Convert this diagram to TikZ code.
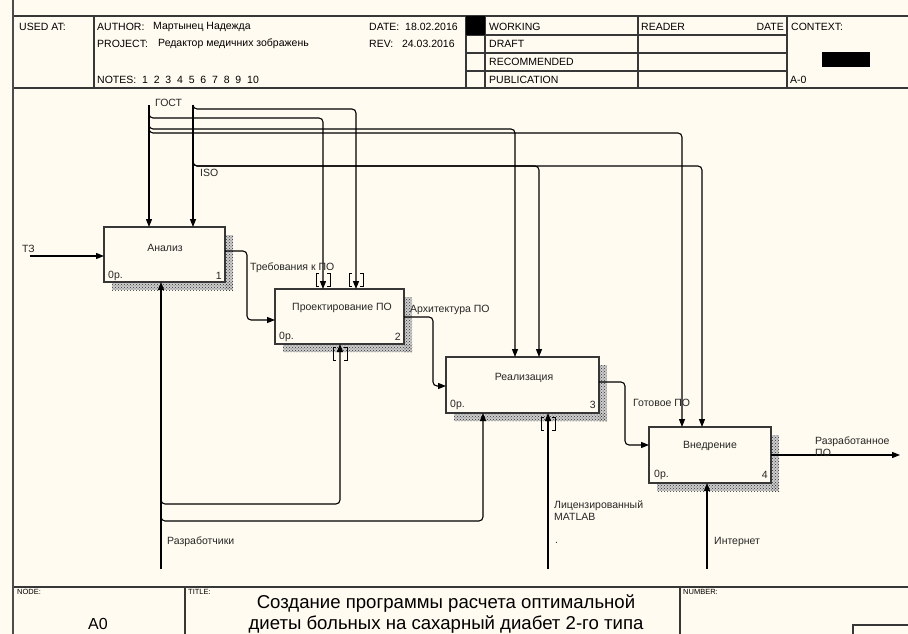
\documentclass[tikz,border=0pt]{standalone}
\usepackage{fontspec}
\setmainfont{Liberation Sans}
\usepackage{graphicx}
\usetikzlibrary{arrows.meta,patterns,calc}
\definecolor{bg}{RGB}{255,251,240}
\definecolor{framec}{RGB}{55,55,55}
\newcommand\idtunnel[1]{%
  \draw[tun] ($(#1)+(-4,0)$) -- ++(-3,0) -- ++(0,13) -- ++(3,0);
  \draw[tun] ($(#1)+(4,0)$) -- ++(3,0) -- ++(0,13) -- ++(-3,0);}
\newcommand\idshadow[1]{%
  \fill[gray!40] ($(#1.north east)+(0,8)$) rectangle ($(#1.south east)+(8,8)$);
  \fill[gray!40] ($(#1.south west)+(8,0)$) rectangle ($(#1.south east)+(8,8)$);
  \fill[pattern=crosshatch dots, pattern color=gray!40!black] ($(#1.north east)+(0,8)$) rectangle ($(#1.south east)+(8,8)$);
  \fill[pattern=crosshatch dots, pattern color=gray!40!black] ($(#1.south west)+(8,0)$) rectangle ($(#1.south east)+(8,8)$);}
\begin{document}
\begin{tikzpicture}[x=1pt,y=-1pt,
  box/.style={draw=framec, line width=1.3pt, fill=bg, inner sep=0pt, outer sep=0pt},
  lbl/.style={font=\fontsize{10.5}{12}\selectfont, inner sep=0pt, anchor=west, text=black!85},
  hdr/.style={font=\fontsize{10.5}{12}\selectfont, inner sep=0pt, anchor=west},
  tiny/.style={font=\fontsize{7.5}{8}\selectfont, inner sep=0pt, anchor=north west},
  arr/.style={line width=1.1pt, rounded corners=4pt, -{Triangle[length=8pt,width=6pt]}},
  ln/.style={line width=1.1pt, rounded corners=4pt},
  tun/.style={line width=0.9pt},
  frm/.style={line width=1.3pt, draw=framec}]
\useasboundingbox[fill=bg] (0,0) rectangle (908,634);
% left border
\draw[line width=2.6pt, draw=gray!60!black] (13,0) -- (13,634);
% ---------- header ----------
\draw[frm] (14,16) -- (908,16);
\draw[frm] (14,88) -- (908,88);
\foreach \xx in {94,466,485,638,787} \draw[frm] (\xx,16) -- (\xx,88);
\foreach \yy in {35,53,71} \draw[frm] (466,\yy) -- (787,\yy);
\fill[black] (466,16) rectangle (485,35);
\fill[black] (822,52) rectangle (870,67);
\node[hdr] (usedat) at (19,27) {USED AT:};
\node[hdr] (author) at (97,27) {AUTHOR:};
\node[hdr] (authorv) at (153,27) {Мартынец Надежда};
\node[hdr] (project) at (97,44) {PROJECT:};
\node[hdr] (projectv) at (158,44) {Редактор медичних зображень};
\node[hdr] (notes) at (97,80) {NOTES:\ \ 1\ \ 2\ \ 3\ \ 4\ \ 5\ \ 6\ \ 7\ \ 8\ \ 9\ \ 10};
\node[hdr] (date) at (369,27) {DATE:\ \ 18.02.2016};
\node[hdr] (rev) at (369,44) {REV:\ \ \ 24.03.2016};
\node[hdr] (working) at (489,27) {WORKING};
\node[hdr] (draft) at (489,44) {DRAFT};
\node[hdr] (recom) at (489,62) {RECOMMENDED};
\node[hdr] (publ) at (489,80) {PUBLICATION};
\node[hdr] (reader) at (641,27) {READER};
\node[hdr, anchor=east] (rdate) at (784,27) {DATE};
\node[hdr] (context) at (791,27) {CONTEXT:};
\node[hdr] (actx) at (790,80) {A-0};
% ---------- footer ----------
\draw[frm] (14,587) -- (908,587);
\draw[frm] (185,587) -- (185,634);
\draw[frm] (680,587) -- (680,634);
\draw[frm] (853,634) -- (853,625) -- (908,625);
\node[tiny] (nodel) at (17,589) {NODE:};
\node[tiny] (titlel) at (188,589) {TITLE:};
\node[tiny] (numl) at (683,589) {NUMBER:};
\node[font=\fontsize{16}{18}\selectfont, inner sep=0pt] (nodev) at (98,624) {A0};
\node[font=\fontsize{18.6}{21}\selectfont, inner sep=0pt, align=center] (titlev) at (446,614)
  {Создание программы расчета оптимальной\\диеты больных на сахарный диабет 2-го типа};
% ---------- boxes ----------
\coordinate (p1) at (164.5,254.5);
\coordinate (p2) at (339.5,316.5);
\coordinate (p3) at (522.5,385);
\coordinate (p4) at (710,455);
\node[minimum width=121pt, minimum height=55pt, inner sep=0pt, outer sep=0pt] (b1s) at (p1) {};
\node[minimum width=129pt, minimum height=55pt, inner sep=0pt, outer sep=0pt] (b2s) at (p2) {};
\node[minimum width=153pt, minimum height=56pt, inner sep=0pt, outer sep=0pt] (b3s) at (p3) {};
\node[minimum width=122pt, minimum height=56pt, inner sep=0pt, outer sep=0pt] (b4s) at (p4) {};
\idshadow{b1s}
\idshadow{b2s}
\idshadow{b3s}
\idshadow{b4s}
\node[box, minimum width=121pt, minimum height=55pt] (b1) at (p1) {};
\node[box, minimum width=129pt, minimum height=55pt] (b2) at (p2) {};
\node[box, minimum width=153pt, minimum height=56pt] (b3) at (p3) {};
\node[box, minimum width=122pt, minimum height=56pt] (b4) at (p4) {};
\node[lbl, anchor=center] (t1) at (165,248) {Анализ};
\node[lbl, anchor=center] (t2) at (342,308) {Проектирование ПО};
\node[lbl, anchor=center] (t3) at (524,378) {Реализация};
\node[lbl, anchor=center] (t4) at (710,446) {Внедрение};
\node[lbl] (o1) at (108,276) {0р.};
\node[lbl, anchor=east] (n1) at (222,276) {1};
\node[lbl] (o2) at (279,337) {0р.};
\node[lbl, anchor=east] (n2) at (401,337) {2};
\node[lbl] (o3) at (450,405) {0р.};
\node[lbl, anchor=east] (n3) at (596,405) {3};
\node[lbl] (o4) at (654,475) {0р.};
\node[lbl, anchor=east] (n4) at (768,475) {4};
% ---------- free ends ----------
\coordinate (tz) at (30,256);
\coordinate (gost) at (149,105);
\coordinate (iso) at (193,105);
\coordinate (dev) at (161,569);
\coordinate (mat) at (548,569);
\coordinate (inet) at (707,569);
\coordinate (outp) at (900,455);
% ---------- inputs / outputs ----------
\draw[arr] (tz) -- (tz -| b1.west);
\draw[arr] (b1.east |- 0,251) -- (247,251) -- (247,320) -- (b2.west |- 0,320);
\draw[arr] (b2.east |- 0,317) -- (433,317) -- (433,386) -- (b3.west |- 0,386);
\draw[arr] (b3.east |- 0,382) -- (625,382) -- (625,445) -- (b4.west |- 0,445);
\draw[arr] (b4.east |- 0,455) -- (outp);
% ---------- controls ----------
\draw[arr] (gost) -- (gost |- b1.north);
\draw[arr] (149,112) -- (149,118) -- (323,118) -- (323,0 |- b2.north);
\draw[arr] (149,123) -- (149,129) -- (515,129) -- (515,0 |- b3.north);
\draw[arr] (149,127) -- (149,133) -- (682,133) -- (682,0 |- b4.north);
\draw[arr] (iso) -- (iso |- b1.north);
\draw[arr] (193,105) -- (193,109) -- (356,109) -- (356,0 |- b2.north);
\draw[arr] (193,160) -- (193,166) -- (539,166) -- (539,0 |- b3.north);
\draw[arr] (193,160) -- (193,166) -- (702,166) -- (702,0 |- b4.north);
\idtunnel{323,273}
\idtunnel{356,273}
% ---------- mechanisms ----------
\draw[arr] (dev) -- (dev |- b1.south);
\draw[arr] (161,498) -- (161,504) -- (340,504) -- (340,0 |- b2.south);
\draw[arr] (161,515) -- (161,521) -- (483,521) -- (483,0 |- b3.south);
\draw[arr] (mat) -- (mat |- b3.south);
\draw[arr] (inet) -- (inet |- b4.south);
\idtunnel{340,347}
\idtunnel{548,417}
% ---------- labels ----------
\node[lbl] (lgost) at (155,103) {ГОСТ};
\node[lbl] (liso) at (200,173) {ISO};
\node[lbl] (ltz) at (22,249) {ТЗ};
\node[lbl] (lreq) at (250,268) {Требования к ПО};
\node[lbl] (larch) at (410,310) {Архитектура ПО};
\node[lbl] (lready) at (633,403) {Готовое ПО};
\node[lbl, align=left] (lout) at (815,447) {Разработанное\\ПО};
\node[lbl] (ldev) at (167,542) {Разработчики};
\node[lbl, align=left] (lmat) at (554,511) {Лицензированный\\MATLAB};
\node[lbl] (ldot) at (555,543) {.};
\node[lbl] (linet) at (714,542) {Интернет};
\end{tikzpicture}
\end{document}
